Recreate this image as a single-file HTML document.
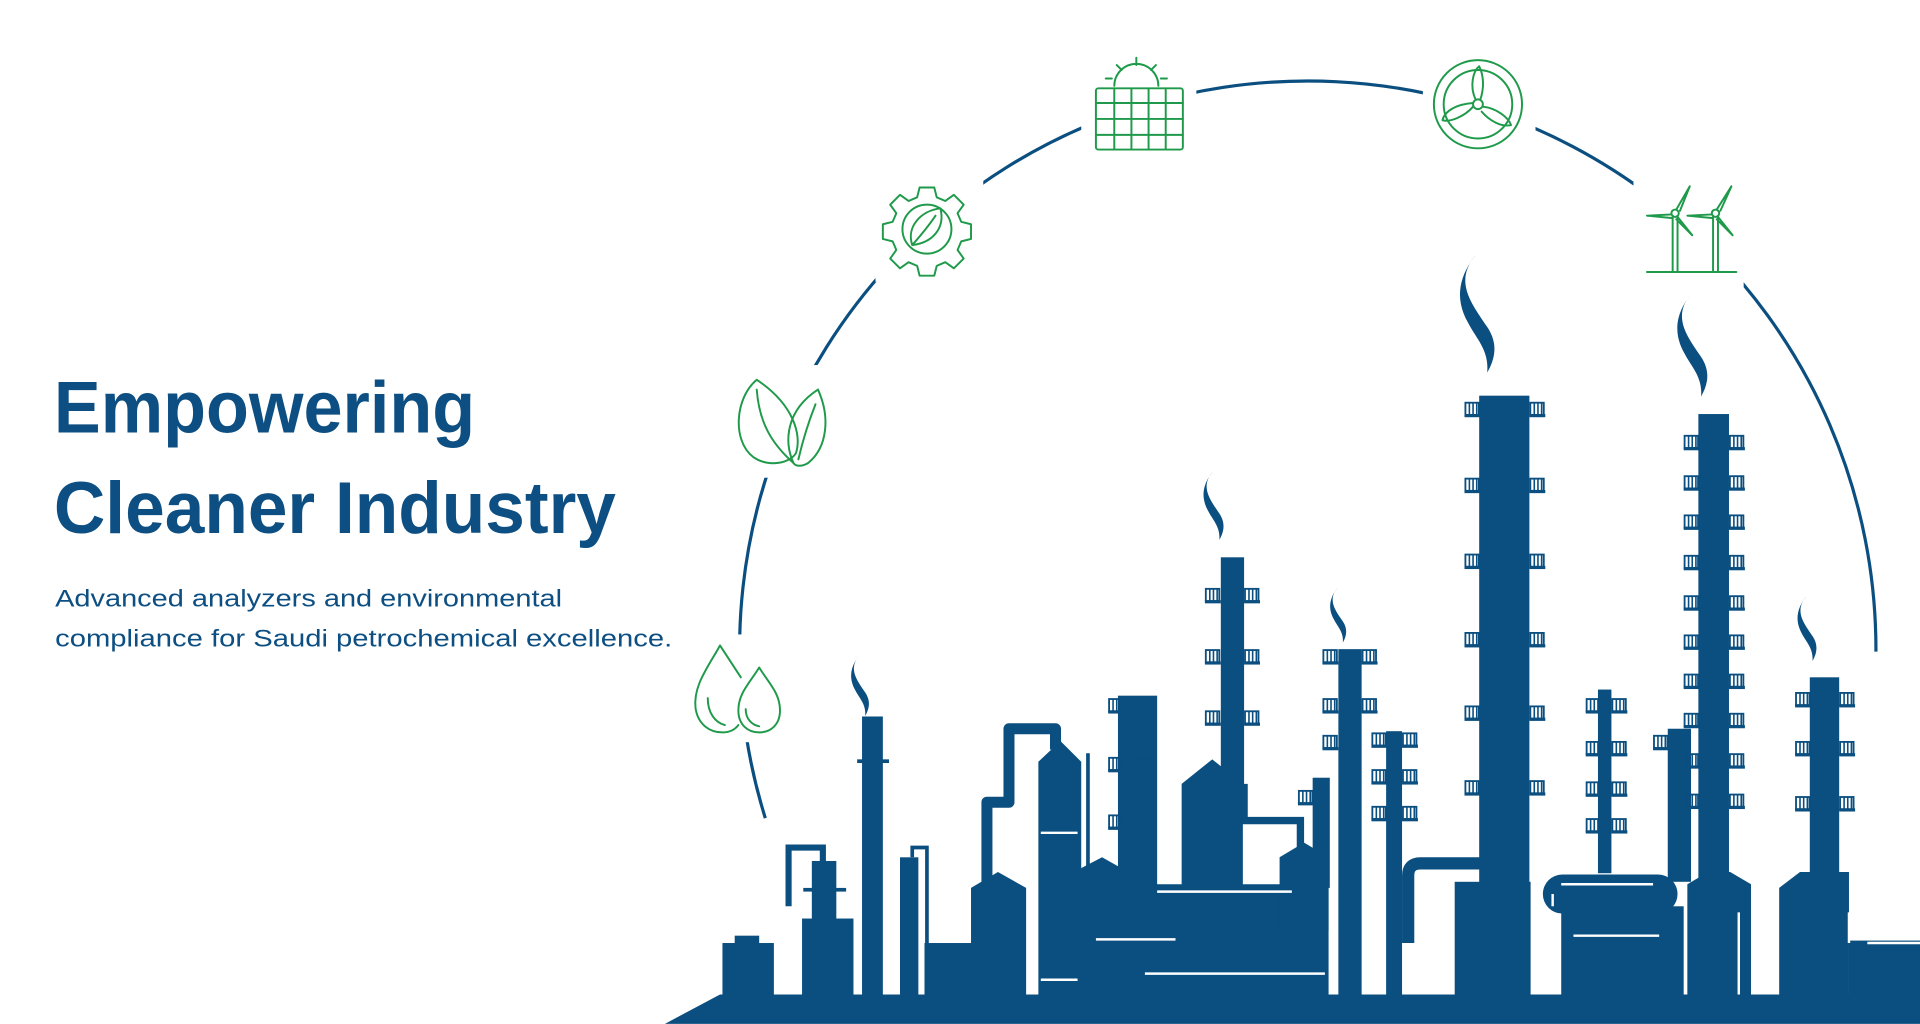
<!DOCTYPE html>
<html><head><meta charset="utf-8"><style>
html,body{margin:0;padding:0;background:#fff;}
svg{display:block;}
</style></head><body>
<svg width="1920" height="1024" viewBox="0 0 1568 836" xmlns="http://www.w3.org/2000/svg">
<defs>
<g id="r"><rect x="0.75" y="0.75" width="11" height="10" fill="none" stroke="#0b4f80" stroke-width="1.5"/><path d="M4 1v10M7 1v10M10 1v10" stroke="#0b4f80" stroke-width="1.3"/><rect x="0" y="10" width="13" height="2.6" fill="#0b4f80"/></g>
<path id="sm" d="M6 0 C -6 14, 4 26, 12 38 C 18 47, 16 55, 12 62 C 13 50, 6 44, 2 36 C -6 22, -2 10, 6 0 Z" fill="#0b4f80"/>
</defs>
<rect width="1568" height="836" fill="#fff"/>
<g fill="#0d4f82" font-family="Liberation Sans, Arial, sans-serif">
<text x="44" y="353" font-size="60" font-weight="bold" textLength="344" lengthAdjust="spacingAndGlyphs">Empowering</text>
<text x="44" y="435" font-size="60" font-weight="bold" textLength="459" lengthAdjust="spacingAndGlyphs">Cleaner Industry</text>
<text x="45" y="495" font-size="20" textLength="414" lengthAdjust="spacingAndGlyphs">Advanced analyzers and environmental</text>
<text x="45" y="528" font-size="20" textLength="504" lengthAdjust="spacingAndGlyphs">compliance for Saudi petrochemical excellence.</text>
</g>
<!-- arc -->
<path d="M625 668 A 464 464 0 1 1 1532 532" fill="none" stroke="#0b4f80" stroke-width="2.6"/>
<g fill="#fff">
<rect x="560" y="518" width="85" height="88"/>
<rect x="596" y="298" width="86" height="92"/>
<rect x="715" y="140" width="88" height="90"/>
<rect x="883" y="40" width="94" height="100"/>
<rect x="1162" y="40" width="92" height="90"/>
<rect x="1334" y="140" width="90" height="95"/>
</g>
<g fill="none" stroke="#1f9a4a" stroke-width="1.6" stroke-linecap="round" stroke-linejoin="round">
<path d="M588 527 C 578 545, 566 560, 568 578 C 570 592, 580 598, 590 598 C 596 598, 600 596, 603 592 M588 527 L 605 553"/>
<path d="M578 570 C 578 582, 584 590, 592 592"/>
<path d="M620 545 C 612 558, 603 566, 603 580 C 603 592, 611 598, 620 598 C 629 598, 637 592, 637 580 C 637 566, 628 558, 620 545 Z"/>
<path d="M609 579 C 609 587, 614 592, 620 593"/>
<path d="M618 310 C 600 325, 598 360, 615 373 C 628 382, 645 378, 650 370 C 655 355, 648 330, 618 310 Z"/>
<path d="M618 318 C 620 345, 630 362, 648 378"/>
<path d="M648 378 C 640 360, 642 335, 668 318 C 678 340, 676 365, 660 378 C 655 381, 650 381, 648 378 Z"/>
<path d="M652 375 C 656 358, 660 345, 666 330"/>
<path d="M751 153 h12 l2 8 l7 3 l7 -5 l8 8 l-5 7 l3 7 l8 2 v12 l-8 2 l-3 7 l5 7 l-8 8 l-7 -5 l-7 3 l-2 8 h-12 l-2 -8 l-7 -3 l-7 5 l-8 -8 l5 -7 l-3 -7 l-8 -2 v-12 l8 -2 l3 -7 l-5 -7 l8 -8 l7 5 l7 -3 z"/>
<circle cx="757" cy="187" r="20"/>
<path d="M745 200 C 740 185, 752 172, 768 170 C 772 186, 762 198, 745 200 Z M745 200 C 752 192, 758 185, 764 176"/>
<path d="M910 70 A 18 18 0 0 1 946 70"/>
<path d="M928 47 v6 M912 53 l4 4 M944 53 l-4 4 M903 64 h5 M948 64 h5"/>
<rect x="895" y="72" width="71" height="50" rx="2"/>
<path d="M895 84 h71 M895 97 h71 M895 110 h71 M910 72 v50 M924 72 v50 M938 72 v50 M952 72 v50"/>
<circle cx="1207" cy="85" r="36"/>
<circle cx="1207" cy="85" r="28"/>
<circle cx="1207" cy="85" r="4"/>
<path d="M1205 81 C 1200 70, 1203 58, 1208 54 C 1212 62, 1212 72, 1209 81"/>
<path d="M1211 87 C 1222 88, 1232 96, 1234 102 C 1226 104, 1216 98, 1210 91"/>
<path d="M1203 87 C 1196 95, 1184 100, 1178 98 C 1180 90, 1190 85, 1203 84"/>
<path d="M1366 176 v46 M1370 176 v46"/>
<circle cx="1368" cy="174" r="3"/>
<path d="M1369 171 L1380 152 L1372 172 M1365 175 L1345 176 L1366 178 M1370 177 L1382 192 L1369 179"/>
<path d="M1399 176 v46 M1403 176 v46"/>
<circle cx="1401" cy="174" r="3"/>
<path d="M1402 171 L1414 152 L1405 172 M1398 175 L1378 176 L1399 178 M1403 177 L1415 192 L1402 179"/>
<path d="M1345 222 h73"/>
</g>
<g fill="#0b4f80">
<polygon points="543,836 588,812 1568,812 1568,836"/>
<rect x="590" y="770" width="42" height="44"/>
<rect x="600" y="764" width="20" height="8"/>
<rect x="655" y="750" width="42" height="64"/>
<rect x="663" y="703" width="20" height="50"/>
<path d="M644 740 V692 H672 V706" fill="none" stroke="#0b4f80" stroke-width="5"/>
<rect x="656" y="725" width="35" height="3"/>
<rect x="704" y="585" width="17" height="230"/>
<rect x="700" y="620" width="26" height="3"/>
<use href="#sm" transform="translate(697,535) scale(0.8)"/>
<rect x="735" y="700" width="15" height="115"/>
<path d="M745 700 V692 H757 V812" fill="none" stroke="#0b4f80" stroke-width="3"/>
<rect x="755" y="770" width="45" height="44"/>
<rect x="775" y="785" width="20" height="30"/>
<polygon points="793,725 815,712 838,725 838,814 793,814"/>
<path d="M806 722 V655 H824 V595 H862 V612" fill="none" stroke="#0b4f80" stroke-width="9" stroke-linejoin="round"/>
<polygon points="848,622 866,605 883,622 883,814 848,814"/>
<rect x="887" y="615" width="3" height="95"/>
<polygon points="873,714 900,700 925,714 925,814 873,814"/>
<rect x="913" y="568" width="32" height="246"/>
<rect x="940" y="722" width="145" height="92"/>
<polygon points="965,640 990,620 1015,640 1015,725 965,725"/>
<rect x="997" y="455" width="19" height="190"/>
<use href="#sm" transform="translate(985,385) scale(0.9)"/>
<path d="M1016 640 V670 H1062 V700" fill="none" stroke="#0b4f80" stroke-width="6"/>
<polygon points="1045,700 1065,688 1085,700 1085,760 1045,760"/>
<rect x="1072" y="635" width="14" height="90"/>
<rect x="1093" y="530" width="19" height="285"/>
<use href="#sm" transform="translate(1088,480) scale(0.72)"/>
<rect x="1132" y="597" width="13" height="218"/>
<path d="M1150 770 V715 Q1150 705 1160 705 H1215" fill="none" stroke="#0b4f80" stroke-width="10"/>
<rect x="1188" y="720" width="62" height="94"/>
<rect x="1208" y="323" width="41" height="400"/>
<use href="#sm" transform="translate(1196,208) scale(1.55)"/>
<rect x="1305" y="563" width="11" height="150"/>
<rect x="1275" y="740" width="100" height="74"/>
<rect x="1260" y="714" width="110" height="32" rx="16"/>
<rect x="1362" y="595" width="19" height="125"/>
<rect x="1387" y="338" width="25" height="385"/>
<use href="#sm" transform="translate(1373,240) scale(1.35)"/>
<polygon points="1378,722 1395,712 1413,712 1430,722 1430,814 1378,814"/>
<rect x="1478" y="553" width="24" height="170"/>
<use href="#sm" transform="translate(1470,487) scale(0.85)"/>
<polygon points="1453,725 1470,712 1510,712 1510,814 1453,814"/>
<rect x="1510" y="768" width="58" height="46"/>
<use href="#r" transform="translate(905,570)"/><use href="#r" transform="translate(928,570)"/>
<use href="#r" transform="translate(905,618)"/><use href="#r" transform="translate(928,618)"/>
<use href="#r" transform="translate(905,665)"/><use href="#r" transform="translate(928,665)"/>
<use href="#r" transform="translate(984,480)"/><use href="#r" transform="translate(1016,480)"/>
<use href="#r" transform="translate(984,530)"/><use href="#r" transform="translate(1016,530)"/>
<use href="#r" transform="translate(984,580)"/><use href="#r" transform="translate(1016,580)"/>
<use href="#r" transform="translate(1060,645)"/>
<use href="#r" transform="translate(1080,530)"/><use href="#r" transform="translate(1112,530)"/>
<use href="#r" transform="translate(1080,570)"/><use href="#r" transform="translate(1112,570)"/>
<use href="#r" transform="translate(1080,600)"/>
<use href="#r" transform="translate(1120,598)"/><use href="#r" transform="translate(1145,598)"/>
<use href="#r" transform="translate(1120,628)"/><use href="#r" transform="translate(1145,628)"/>
<use href="#r" transform="translate(1120,658)"/><use href="#r" transform="translate(1145,658)"/>
<use href="#r" transform="translate(1196,328)"/><use href="#r" transform="translate(1249,328)"/>
<use href="#r" transform="translate(1196,390)"/><use href="#r" transform="translate(1249,390)"/>
<use href="#r" transform="translate(1196,452)"/><use href="#r" transform="translate(1249,452)"/>
<use href="#r" transform="translate(1196,516)"/><use href="#r" transform="translate(1249,516)"/>
<use href="#r" transform="translate(1196,576)"/><use href="#r" transform="translate(1249,576)"/>
<use href="#r" transform="translate(1196,637)"/><use href="#r" transform="translate(1249,637)"/>
<use href="#r" transform="translate(1295,570)"/><use href="#r" transform="translate(1316,570)"/>
<use href="#r" transform="translate(1295,605)"/><use href="#r" transform="translate(1316,605)"/>
<use href="#r" transform="translate(1295,638)"/><use href="#r" transform="translate(1316,638)"/>
<use href="#r" transform="translate(1295,668)"/><use href="#r" transform="translate(1316,668)"/>
<use href="#r" transform="translate(1350,600)"/>
<use href="#r" transform="translate(1375,355)"/><use href="#r" transform="translate(1412,355)"/>
<use href="#r" transform="translate(1375,388)"/><use href="#r" transform="translate(1412,388)"/>
<use href="#r" transform="translate(1375,420)"/><use href="#r" transform="translate(1412,420)"/>
<use href="#r" transform="translate(1375,453)"/><use href="#r" transform="translate(1412,453)"/>
<use href="#r" transform="translate(1375,486)"/><use href="#r" transform="translate(1412,486)"/>
<use href="#r" transform="translate(1375,518)"/><use href="#r" transform="translate(1412,518)"/>
<use href="#r" transform="translate(1375,550)"/><use href="#r" transform="translate(1412,550)"/>
<use href="#r" transform="translate(1375,582)"/><use href="#r" transform="translate(1412,582)"/>
<use href="#r" transform="translate(1375,615)"/><use href="#r" transform="translate(1412,615)"/>
<use href="#r" transform="translate(1375,648)"/><use href="#r" transform="translate(1412,648)"/>
<use href="#r" transform="translate(1466,565)"/><use href="#r" transform="translate(1502,565)"/>
<use href="#r" transform="translate(1466,605)"/><use href="#r" transform="translate(1502,605)"/>
<use href="#r" transform="translate(1466,650)"/><use href="#r" transform="translate(1502,650)"/>
</g>
<g stroke="#fff" stroke-width="2" fill="none">
<path d="M850 680 H880 M850 800 H880 M895 767 H960 M935 795 H1082 M945 728 H1055 M1285 764 H1355 M1155 770 V812 M1160 765 H1180 M1420 745 V812 M1030 690 V720 M1025 680 H1040 M1510 745 V770 M1525 770 H1568"/>
<path d="M1275 722 H1350 M1268 730 V740" />
</g>
</svg>
</body></html>
